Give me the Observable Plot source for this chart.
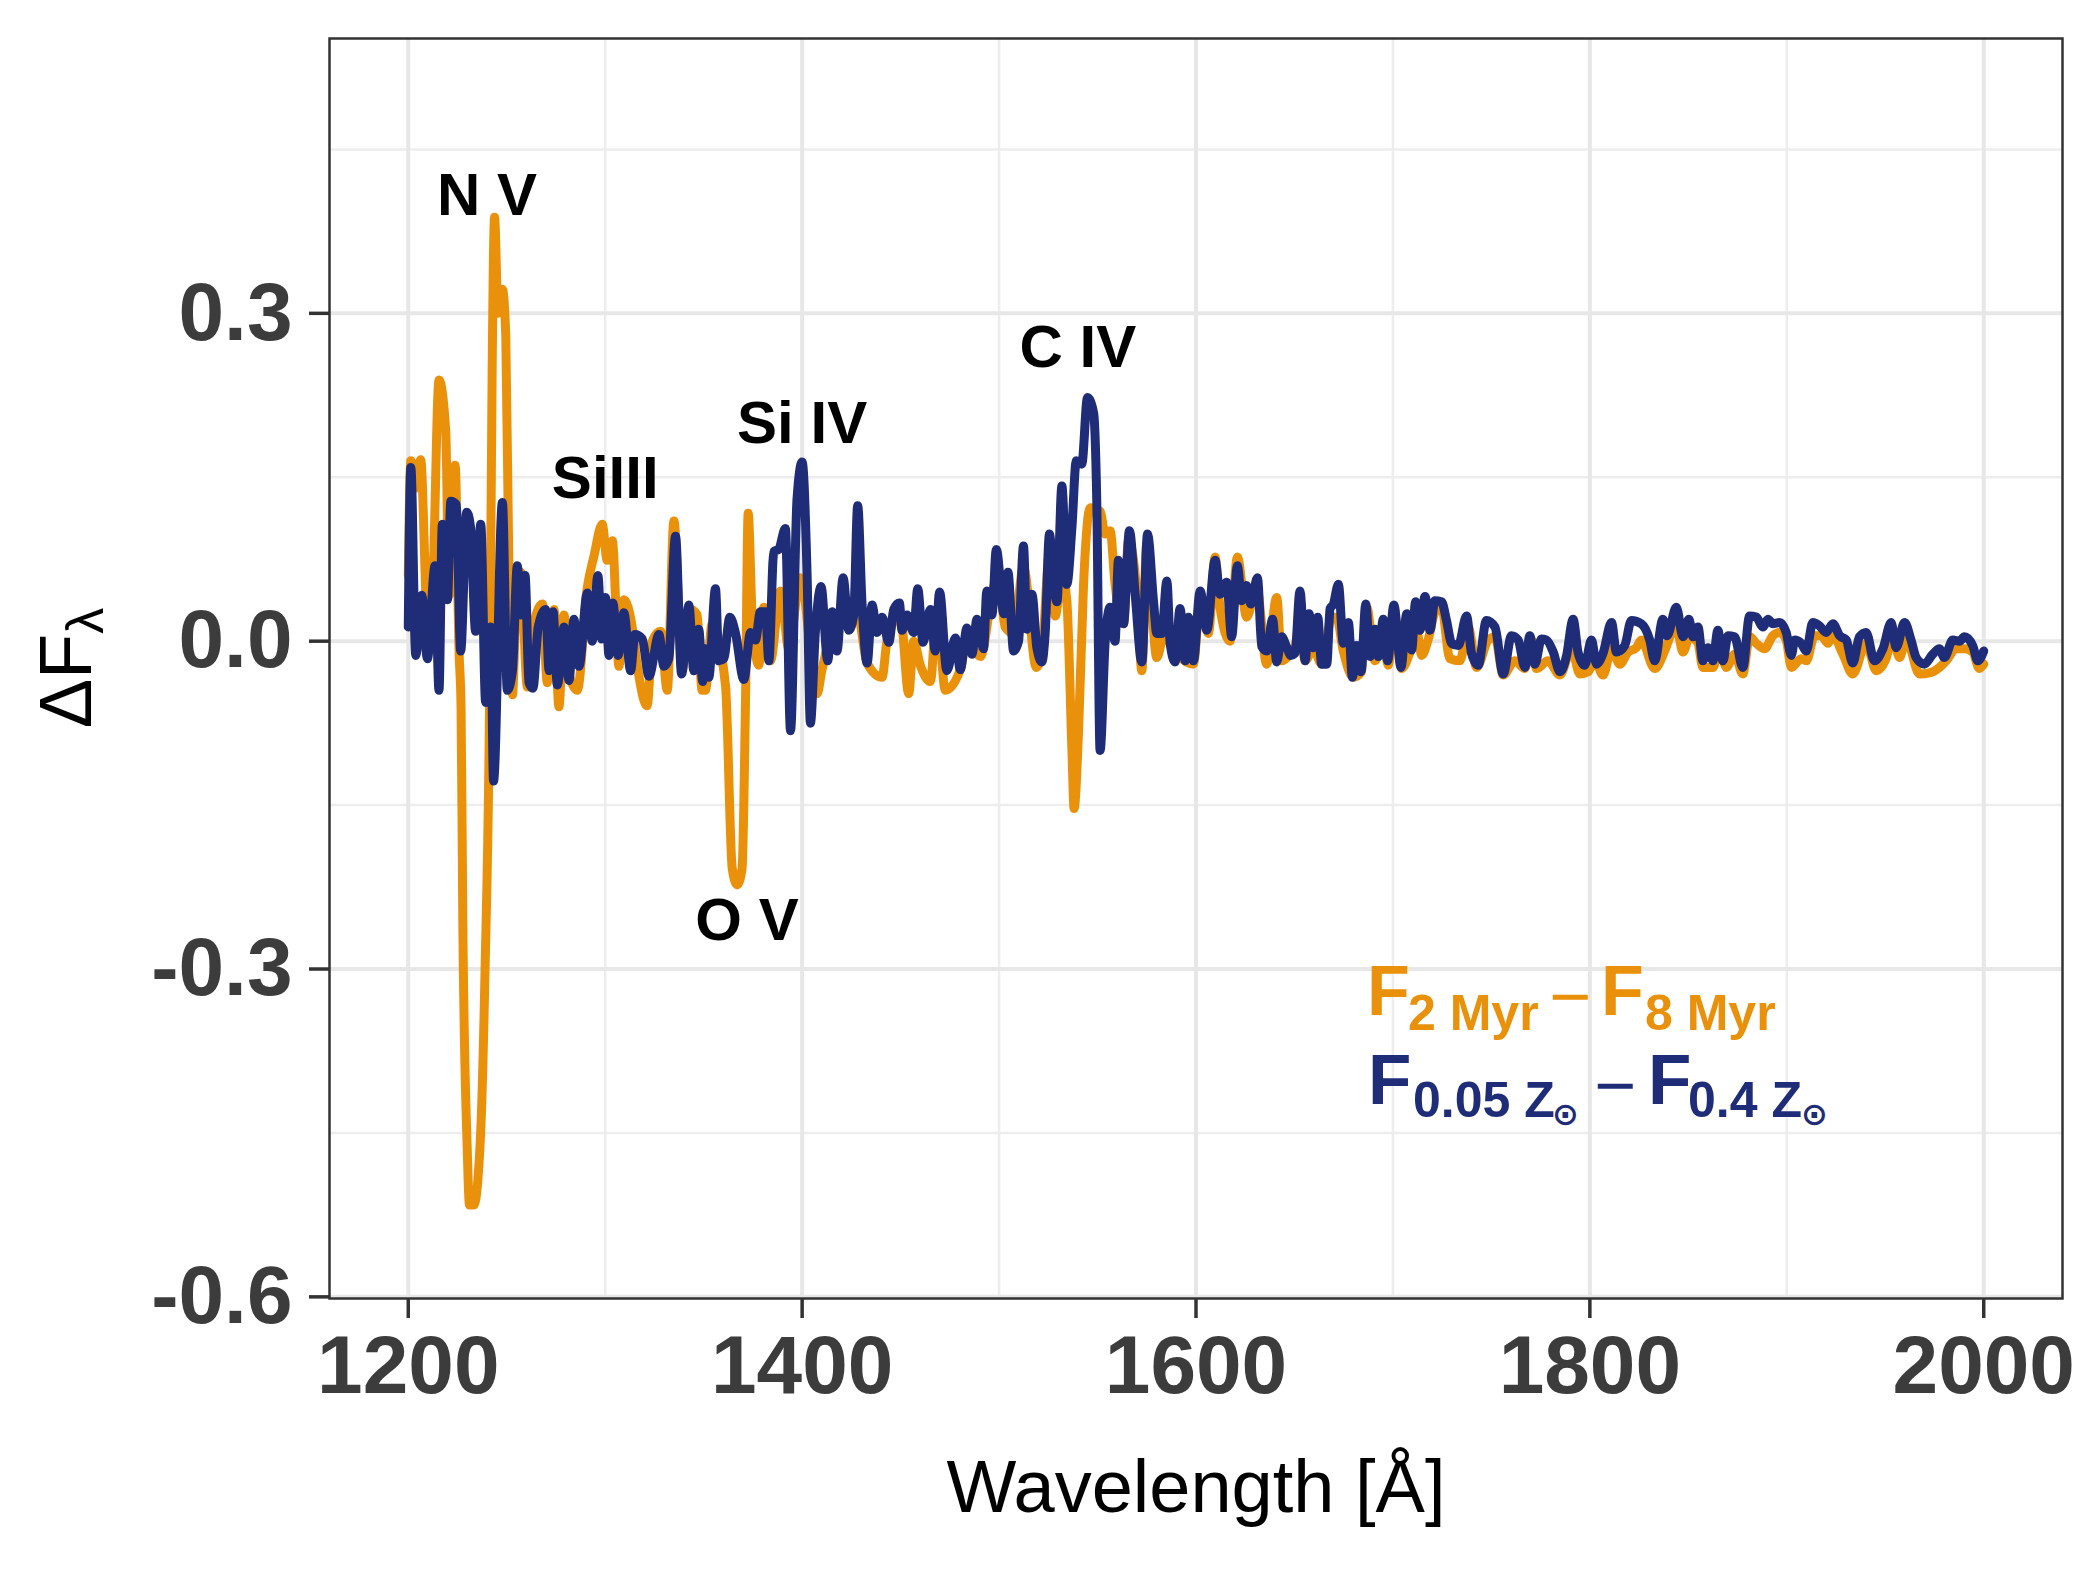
<!DOCTYPE html>
<html><head><meta charset="utf-8">
<script src="https://cdn.jsdelivr.net/npm/d3@7"></script>
<script src="https://cdn.jsdelivr.net/npm/@observablehq/plot@0.6"></script>
<style>html,body{margin:0;padding:0;background:#fff;} #chart{width:2100px;height:1575px;}</style>
</head><body><div id="chart"></div>
<script>
// ---- data: F(2 Myr) - F(8 Myr)
const orangeWavelength = [1200.0,1201.3,1203.8,1206.3,1209.7,1212.3,1215.6,1219.0,1220.7,1223.8,1225.8,1226.8,1227.7,1229.9,1231.1,1233.3,1236.7,1239.0,1241.3,1242.6,1243.8,1245.6,1247.8,1249.5,1251.2,1252.9,1254.5,1257.1,1260.5,1263.0,1268.1,1270.6,1274.0,1276.5,1279.1,1281.6,1285.8,1290.9,1294.3,1298.5,1301.0,1303.6,1307.0,1309.5,1313.7,1316.3,1321.3,1323.9,1328.1,1331.5,1334.9,1339.1,1342.5,1346.7,1349.2,1350.9,1354.3,1361.1,1364.5,1367.0,1369.5,1371.2,1372.6,1374.6,1378.0,1380.5,1383.9,1389.0,1393.2,1399.1,1407.6,1410.1,1418.6,1427.9,1433.0,1440.6,1443.1,1449.9,1454.1,1456.6,1460.0,1465.1,1468.5,1472.7,1480.3,1483.7,1490.5,1497.2,1499.5,1503.1,1507.4,1512.4,1518.9,1521.7,1525.6,1528.5,1531.9,1534.4,1537.0,1538.1,1540.3,1542.9,1546.3,1551.3,1553.9,1556.4,1558.9,1563.2,1565.7,1570.0,1572.5,1575.0,1580.1,1583.5,1590.2,1598.7,1602.1,1606.3,1609.7,1612.2,1617.3,1621.0,1625.7,1630.8,1635.9,1641.0,1643.5,1647.7,1650.3,1652.8,1655.4,1659.6,1663.8,1668.9,1671.4,1674.8,1679.9,1684.1,1686.7,1690.9,1695.1,1697.6,1701.0,1704.4,1708.7,1712.0,1714.6,1718.0,1721.3,1724.7,1728.9,1734.0,1738.2,1742.5,1748.4,1751.8,1756.0,1761.9,1767.0,1770.4,1772.9,1778.8,1784.8,1790.7,1794.9,1799.1,1802.5,1806.7,1811.0,1815.2,1819.4,1823.6,1826.1,1832.9,1838.0,1841.4,1843.9,1847.3,1850.7,1854.9,1857.4,1862.5,1865.9,1869.3,1873.5,1877.7,1881.1,1884.5,1888.7,1892.9,1896.3,1899.7,1902.3,1907.3,1909.9,1914.1,1917.5,1920.9,1923.4,1928.5,1933.5,1940.3,1945.4,1950.4,1953.8,1957.2,1960.6,1967.4,1972.4,1977.5,1980.9,1986.0,1990.2,1994.4,1997.8,2000.0];
const orangeDelta = [0.060,0.165,0.140,0.166,0.024,0.050,0.239,0.193,0.042,0.161,-0.010,-0.060,-0.258,-0.462,-0.516,-0.516,-0.452,-0.300,-0.054,0.250,0.388,0.300,0.322,0.280,0.050,-0.049,0.020,0.063,-0.042,0.009,0.034,-0.038,0.029,-0.060,0.024,-0.030,-0.045,0.049,0.078,0.107,0.074,0.092,-0.023,0.038,0.013,-0.023,-0.059,0.000,0.009,-0.045,0.110,-0.027,0.030,0.024,-0.045,-0.045,0.016,-0.041,-0.208,-0.223,-0.208,-0.060,0.117,0.024,-0.022,0.031,-0.018,0.046,-0.007,0.058,-0.048,-0.026,0.024,0.027,-0.020,-0.033,0.000,0.024,-0.048,0.000,-0.022,-0.037,0.030,-0.045,-0.026,0.000,-0.014,0.050,0.060,0.013,0.007,0.068,-0.024,-0.012,0.080,0.023,0.061,0.037,-0.100,-0.153,-0.085,0.052,0.122,0.119,0.098,0.101,0.052,0.016,0.092,0.043,-0.027,0.089,-0.015,0.004,-0.012,-0.021,0.037,0.007,0.077,0.031,0.000,0.077,0.022,0.049,-0.021,0.040,-0.018,-0.012,-0.005,0.019,-0.018,-0.007,-0.021,0.022,0.022,-0.009,-0.033,-0.028,0.031,-0.018,0.001,-0.022,0.022,-0.025,-0.010,0.010,-0.013,0.002,0.026,0.031,-0.016,-0.018,0.013,-0.024,0.001,0.004,-0.031,-0.018,-0.025,0.001,-0.025,-0.018,-0.031,-0.007,-0.030,-0.028,-0.018,-0.031,-0.007,-0.021,-0.010,-0.006,0.001,-0.025,-0.009,0.007,0.013,-0.010,0.004,-0.002,-0.024,-0.024,-0.006,-0.024,-0.012,-0.030,0.004,-0.002,-0.007,0.005,0.008,0.001,-0.024,-0.016,-0.018,0.005,0.005,-0.002,0.005,-0.012,-0.030,-0.002,-0.027,-0.016,0.005,-0.015,0.002,-0.030,-0.029,-0.024,-0.018,-0.007,-0.007,-0.010,-0.025,-0.021];

// ---- data: F(0.05 Zsun) - F(0.4 Zsun)
const blueWavelength = [1200.0,1201.3,1203.8,1206.9,1209.7,1213.6,1215.6,1217.3,1219.9,1221.6,1224.4,1226.6,1229.7,1231.7,1234.2,1236.8,1239.3,1241.9,1243.3,1247.8,1250.3,1252.9,1255.4,1257.1,1259.3,1261.3,1263.3,1266.0,1269.8,1271.5,1273.5,1275.7,1279.1,1281.6,1284.1,1286.7,1290.9,1293.4,1296.3,1298.2,1300.2,1301.9,1303.9,1306.5,1309.5,1312.9,1315.1,1318.8,1322.2,1327.3,1329.8,1332.3,1335.7,1338.8,1342.5,1345.0,1347.5,1349.5,1350.8,1352.6,1356.0,1357.7,1360.2,1363.3,1366.2,1370.4,1373.8,1376.3,1378.8,1381.4,1383.1,1385.6,1388.1,1391.5,1394.1,1397.4,1400.0,1402.5,1404.2,1406.7,1409.6,1413.0,1415.2,1417.7,1420.8,1423.7,1426.2,1428.2,1430.4,1433.0,1435.5,1438.0,1440.6,1444.0,1446.5,1449.4,1450.7,1453.3,1456.6,1458.7,1461.4,1465.1,1467.6,1469.8,1473.5,1477.8,1480.3,1483.7,1486.2,1488.8,1492.1,1493.8,1496.4,1498.6,1502.5,1504.5,1507.4,1509.9,1512.4,1514.1,1516.7,1519.2,1521.7,1523.4,1525.6,1527.7,1529.4,1531.9,1534.4,1537.0,1539.2,1542.0,1544.9,1548.0,1549.6,1551.3,1553.9,1556.4,1558.9,1560.6,1563.2,1566.2,1569.1,1572.5,1575.4,1578.4,1580.1,1582.6,1585.2,1586.9,1589.4,1591.9,1594.5,1596.2,1598.7,1602.1,1605.5,1609.7,1612.2,1615.6,1618.1,1621.0,1623.2,1625.7,1627.8,1631.2,1633.4,1635.9,1638.9,1641.0,1643.5,1646.0,1648.1,1650.3,1652.8,1655.4,1657.4,1659.6,1661.8,1663.8,1666.4,1668.1,1669.8,1672.3,1674.8,1677.4,1679.4,1681.6,1683.8,1686.2,1688.4,1690.9,1692.6,1695.1,1697.3,1700.5,1704.1,1707.0,1709.5,1711.5,1713.7,1716.3,1718.8,1721.3,1724.7,1727.2,1729.8,1733.2,1737.4,1739.9,1743.3,1747.5,1751.8,1756.0,1760.2,1763.6,1767.0,1769.5,1772.1,1775.4,1778.0,1781.4,1784.8,1788.1,1791.5,1794.1,1797.4,1800.8,1803.4,1806.7,1811.0,1813.5,1817.7,1821.1,1826.1,1830.4,1832.9,1837.1,1839.2,1843.9,1847.3,1850.3,1852.4,1854.9,1857.4,1860.0,1862.5,1865.0,1867.6,1870.1,1873.5,1877.7,1881.1,1884.5,1887.9,1890.4,1892.9,1896.3,1899.7,1902.3,1904.0,1907.3,1909.9,1913.2,1916.6,1920.0,1923.4,1926.8,1930.2,1933.5,1936.9,1940.3,1944.5,1948.8,1953.0,1955.5,1959.8,1963.1,1965.7,1969.9,1974.1,1977.5,1980.0,1984.3,1987.7,1990.2,1994.4,1997.0,2000.0];
const blueDelta = [0.013,0.159,-0.013,0.042,-0.016,0.069,-0.045,0.107,0.038,0.128,0.125,-0.009,0.118,0.103,0.009,0.107,-0.056,0.013,-0.128,0.127,-0.045,-0.027,0.069,0.024,0.060,-0.038,-0.043,0.013,0.029,-0.027,0.027,-0.040,0.013,-0.036,0.020,-0.023,0.044,0.000,0.060,0.002,0.040,-0.013,0.035,-0.013,0.026,-0.027,0.006,0.002,-0.032,0.006,-0.023,-0.016,0.096,-0.030,0.033,-0.027,0.011,-0.037,-0.007,-0.033,0.048,-0.018,-0.016,0.022,0.007,-0.035,0.008,0.001,0.027,0.027,-0.018,0.082,0.084,0.103,-0.082,0.130,0.164,0.062,-0.075,0.008,0.050,-0.018,0.027,-0.009,0.058,0.010,0.024,0.124,0.035,-0.020,0.033,0.008,0.022,-0.001,0.029,0.035,0.010,0.024,0.008,0.048,-0.001,0.029,-0.009,0.045,-0.027,0.003,-0.026,0.012,-0.012,0.020,-0.007,0.046,0.024,0.084,0.025,0.063,-0.009,0.000,0.087,0.011,0.043,-0.006,-0.019,0.007,0.098,0.052,0.036,0.142,0.052,0.104,0.165,0.162,0.223,0.209,0.129,-0.100,0.000,0.031,0.000,0.074,0.016,0.101,0.043,-0.019,0.098,0.037,0.007,0.007,0.055,-0.002,-0.019,0.030,-0.018,0.022,-0.018,0.046,0.010,0.074,0.043,0.054,0.004,0.069,0.037,0.051,0.034,0.058,-0.005,-0.009,0.020,-0.019,0.004,-0.005,-0.013,-0.011,0.046,-0.018,0.025,-0.006,0.022,-0.021,-0.021,0.030,0.034,0.052,-0.002,0.017,-0.033,-0.004,-0.028,0.034,-0.014,0.011,-0.014,0.020,-0.018,0.033,-0.024,0.025,-0.008,0.036,0.010,0.041,0.010,0.037,0.036,0.019,-0.002,-0.004,0.023,-0.011,-0.022,0.019,0.013,-0.030,0.005,0.001,-0.024,0.005,-0.021,0.002,0.001,-0.010,-0.028,-0.014,0.020,-0.011,-0.022,0.001,-0.021,-0.011,0.017,-0.010,-0.004,0.019,0.016,0.001,-0.018,0.020,0.005,0.031,0.004,0.020,0.004,0.013,-0.018,-0.006,-0.018,0.010,-0.018,0.005,0.004,-0.024,0.023,0.022,0.013,0.020,0.016,0.017,0.008,-0.013,0.001,-0.002,-0.009,0.017,0.014,0.008,0.016,0.005,0.001,-0.020,0.004,0.008,-0.018,-0.007,0.017,-0.006,0.017,0.001,-0.015,-0.021,-0.012,-0.007,-0.015,0.001,0.000,0.004,-0.004,-0.018,-0.009];

// ---- line identifications
const lineLabels = ["N V", "SiIII", "Si IV", "O V", "C IV"];
const lineLabelWavelength = [1240, 1300, 1400, 1372, 1540];
const lineLabelDelta = [0.408, 0.149, 0.199, -0.256, 0.2685];

// ---- axes
const xMajorTicks = [1200, 1400, 1600, 1800, 2000];
const xMinorTicks = [1300, 1500, 1700, 1900];
const yMajorTicks = [-0.6, -0.3, 0.0, 0.3];
const yMinorTicks = [-0.45, -0.15, 0.15, 0.45];
const xDomain = [1160, 2040];
const yDomain = [-0.6015, 0.5515];

const orangeColor = "#EA910C";
const blueColor = "#1F2D78";
const FONT = "'Liberation Sans', Arial, Helvetica, sans-serif";

const orangeData = orangeWavelength.map((w, i) => ({w, d: orangeDelta[i]}));
const blueData = blueWavelength.map((w, i) => ({w, d: blueDelta[i]}));
const labelData = lineLabels.map((t, i) => ({t, w: lineLabelWavelength[i], d: lineLabelDelta[i]}));

const plot = Plot.plot({
  width: 2100,
  height: 1575,
  marginLeft: 329,
  marginRight: 38,
  marginTop: 38,
  marginBottom: 277,
  style: {fontFamily: FONT, background: "#fff", overflow: "visible"},
  x: {domain: xDomain, axis: null},
  y: {domain: yDomain, axis: null},
  marks: [
    Plot.gridX(xMinorTicks, {stroke: "#EDEDED", strokeOpacity: 1, strokeWidth: 2.5}),
    Plot.gridY(yMinorTicks, {stroke: "#EDEDED", strokeOpacity: 1, strokeWidth: 2.5}),
    Plot.gridX(xMajorTicks, {stroke: "#E7E7E7", strokeOpacity: 1, strokeWidth: 4}),
    Plot.gridY(yMajorTicks, {stroke: "#E7E7E7", strokeOpacity: 1, strokeWidth: 4}),
    Plot.line(orangeData, {x: "w", y: "d", stroke: orangeColor, strokeWidth: 9, curve: "monotone-x", strokeLinejoin: "round", strokeLinecap: "round"}),
    Plot.line(blueData, {x: "w", y: "d", stroke: blueColor, strokeWidth: 9, curve: "monotone-x", strokeLinejoin: "round", strokeLinecap: "round"}),
    Plot.text(labelData, {x: "w", y: "d", text: "t", fontSize: 60, fontWeight: "bold", fill: "#000", textAnchor: "middle", lineAnchor: "middle"}),
    Plot.frame({stroke: "#333", strokeWidth: 2.5}),
    Plot.axisX(xMajorTicks, {tickSize: 20, tickPadding: 16, fontSize: 82, fontWeight: "bold", stroke: "#333", fill: "#3C3C3C", strokeWidth: 3.5, tickFormat: d => String(d), label: null}),
    Plot.axisY(yMajorTicks, {tickSize: 20, tickPadding: 17, fontSize: 82, fontWeight: "bold", stroke: "#333", fill: "#3C3C3C", strokeWidth: 3.5, tickFormat: d => d.toFixed(1), label: null})
  ]
});
document.getElementById("chart").append(plot);

const svg = d3.select(plot);

// x axis title
svg.append("text")
  .attr("x", 1196).attr("y", 1512)
  .attr("text-anchor", "middle")
  .attr("font-family", FONT).attr("font-size", 74).attr("fill", "#000")
  .text("Wavelength [Å]");

// y axis title
const yt = svg.append("text")
  .attr("transform", "translate(91,668) rotate(-90)")
  .attr("text-anchor", "middle")
  .attr("font-family", FONT).attr("font-size", 74).attr("fill", "#000");
yt.append("tspan").text("ΔF");
yt.append("tspan").attr("font-size", 52).attr("dy", 12).text("λ");

// legend (plotmath-like expressions)
function piece(x, y, size, color, txt, family, weight) {
  svg.append("text").attr("x", x).attr("y", y)
    .attr("text-anchor", "start")
    .attr("font-family", family || FONT).attr("font-size", size)
    .attr("font-weight", weight || "bold").attr("fill", color).text(txt);
}
piece(1367, 1015, 70, orangeColor, "F");
piece(1408, 1030, 50, orangeColor, "2 Myr");
piece(1549, 1021, 72, orangeColor, "−", null, "normal");
piece(1601, 1015, 70, orangeColor, "F");
piece(1645, 1030, 50, orangeColor, "8 Myr");

piece(1368, 1104, 71, blueColor, "F");
piece(1413, 1117, 50, blueColor, "0.05 Z");
piece(1552, 1125, 32, blueColor, "⊙", "'DejaVu Sans', sans-serif");
piece(1594, 1110, 72, blueColor, "−", null, "normal");
piece(1648, 1104, 71, blueColor, "F");
piece(1688, 1117, 50, blueColor, "0.4 Z");
piece(1801, 1125, 32, blueColor, "⊙", "'DejaVu Sans', sans-serif");
</script>
</body></html>
